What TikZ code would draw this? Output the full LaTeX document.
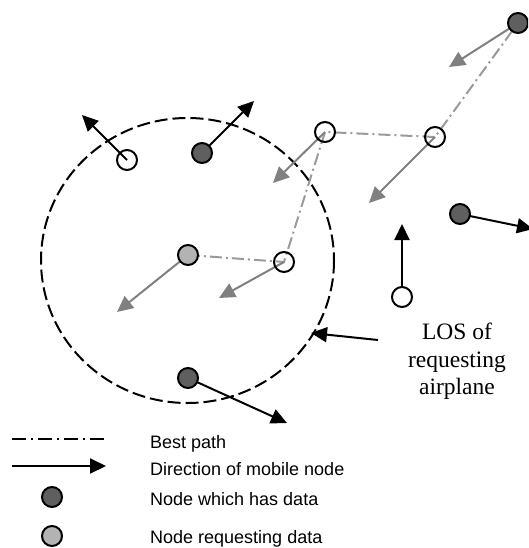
\documentclass[tikz,border=0pt]{standalone}
\usepackage{fontspec}
\setmainfont{Liberation Serif}
\setsansfont{Liberation Sans}
\usetikzlibrary{arrows.meta,backgrounds}
\definecolor{darknode}{HTML}{5F5F5F}
\definecolor{lightnode}{HTML}{B3B3B3}
\definecolor{grayarrow}{HTML}{808080}
\definecolor{pathgray}{HTML}{9A9A9A}
\begin{document}
\begin{tikzpicture}[x=1pt,y=-1pt,
  nd/.style={circle,draw=black,line width=2pt,minimum size=20pt,inner sep=0pt},
  opennode/.style={nd},
  datanode/.style={nd,fill=darknode},
  reqnode/.style={nd,fill=lightnode},
  move/.style={line width=2pt,-{Triangle[length=16pt,width=15pt]}},
  graymove/.style={draw=grayarrow,line width=2pt,-{Triangle[length=16pt,width=15pt]},color=grayarrow},
  bestpath/.style={draw=pathgray,line width=2pt,dash pattern=on 12pt off 4pt on 2pt off 4pt},
  legendtxt/.style={font=\sffamily\fontsize{18}{20}\selectfont,anchor=base west,inner sep=0pt},
  lostxt/.style={font=\fontsize{23.5}{27.5}\selectfont,align=center,inner sep=0pt}
]
\useasboundingbox (0,0) rectangle (528,548);
\clip (0,0) rectangle (528,548);

% nodes
\node[opennode] (n1) at (127,160) {};
\node[datanode] (d1) at (202,153) {};
\node[opennode] (o2) at (325,132) {};
\node[opennode] (o3) at (435,137) {};
\node[datanode] (d2) at (518,23) {};
\node[datanode] (d3) at (460,214) {};
\node[opennode] (o4) at (402,297) {};
\node[reqnode] (r) at (188,255) {};
\node[opennode] (o5) at (284,262) {};
\node[datanode] (d4) at (188,378) {};

% free ends
\coordinate (t1) at (82,115);
\coordinate (t2) at (254,101);
\coordinate (t3) at (273,183);
\coordinate (t4) at (369,203);
\coordinate (t5) at (449,67);
\coordinate (t6) at (533,229);
\coordinate (t7) at (402,224);
\coordinate (t8) at (117,312);
\coordinate (t9) at (219,298);
\coordinate (t10) at (287,423);
\coordinate (losstart) at (378,340);
\coordinate (losend) at (311,333);

\begin{pgfonlayer}{background}
% line of sight circle
\draw[line width=2pt,dash pattern=on 13pt off 5pt] (187.5,260.5) ellipse [x radius=146.5,y radius=142.5];
% best path
\draw[bestpath] (r.center) -- (o5.center) -- (o2.center) -- (o3.center) -- (d2.center);
% gray motion arrows
\draw[graymove] (o2.center) -- (t3);
\draw[graymove] (o3.center) -- (t4);
\draw[graymove] (d2.center) -- (t5);
\draw[graymove] (r.center) -- (t8);
\draw[graymove] (o5.center) -- (t9);
% black motion arrows
\draw[move] (n1.center) -- (t1);
\draw[move] (d1.center) -- (t2);
\draw[move] (d3.center) -- (t6);
\draw[move] (o4.north) -- (t7);
\draw[move] (d4.center) -- (t10);
\end{pgfonlayer}

% LOS label
\draw[move] (losstart) -- (losend);
\node[lostxt,anchor=north] (los) at (457,323) {LOS of\\requesting\\airplane};

% legend
\coordinate (l1a) at (12,439);
\coordinate (l1b) at (106,439);
\draw[draw=black,line width=1.6pt,dash pattern=on 14pt off 5pt on 2pt off 5pt] (l1a) -- (l1b);
\node[legendtxt] (lt1) at (150,448) {Best path};
\coordinate (l2a) at (12,466);
\coordinate (l2b) at (106,466);
\draw[move] (l2a) -- (l2b);
\node[legendtxt] (lt2) at (150,475) {Direction of mobile node};
\node[datanode] (ld) at (52,497) {};
\node[legendtxt] (lt3) at (150,505) {Node which has data};
\node[reqnode] (lr) at (52,536) {};
\node[legendtxt] (lt4) at (150,543) {Node requesting data};
\end{tikzpicture}
\end{document}
